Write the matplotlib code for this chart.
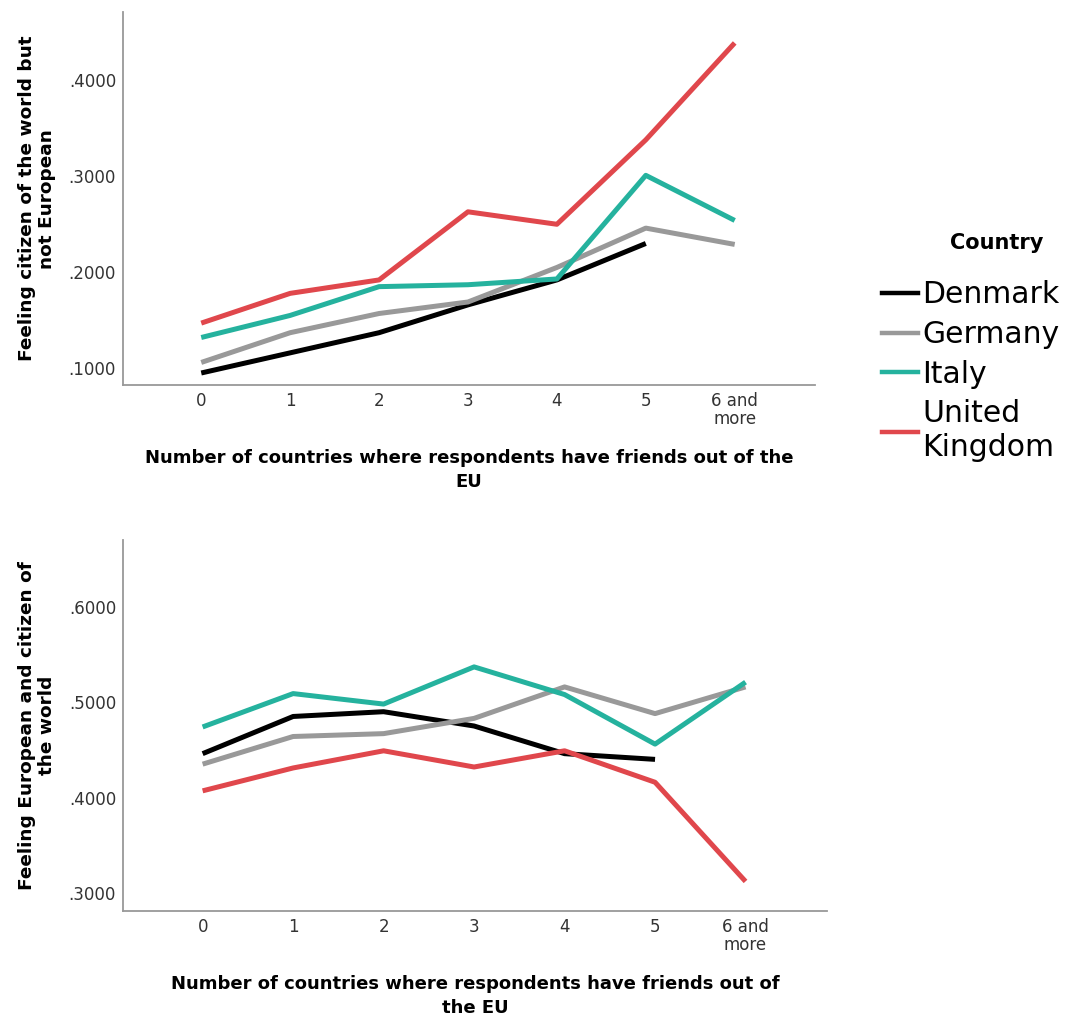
import numpy as np
import matplotlib.pyplot as plt
from matplotlib.lines import Line2D

# categorias do eixo x
groups = ['0', '1', '2', '3', '4', '5', '6 and\nmore']
countries = ['Denmark', 'Germany', 'Italy', 'United\nKingdom']
colors = ['#000000', '#999999', '#25b29e', '#e0474c']

# Feeling citizen of the world but not European
world_dk = [0.095, 0.116, 0.137, 0.166, 0.192, 0.230]
world_de = [0.106, 0.137, 0.157, 0.169, 0.205, 0.246, 0.229]
world_it = [0.132, 0.155, 0.185, 0.187, 0.193, 0.301, 0.254]
world_uk = [0.147, 0.178, 0.192, 0.263, 0.250, 0.338, 0.439]

# Feeling European and citizen of the world
both_dk = [0.446, 0.485, 0.490, 0.475, 0.446, 0.440]
both_de = [0.435, 0.464, 0.467, 0.483, 0.516, 0.488, 0.516]
both_it = [0.474, 0.509, 0.498, 0.537, 0.508, 0.456, 0.521]
both_uk = [0.407, 0.431, 0.449, 0.432, 0.449, 0.416, 0.312]

plt.rcParams['font.family'] = 'DejaVu Sans'

fig = plt.figure(figsize=(10.65, 10.19), dpi=100)
ax1 = fig.add_axes([0.1155, 0.622, 0.6495, 0.366])
ax2 = fig.add_axes([0.1155, 0.106, 0.661, 0.364])

def draw(ax, series, ylim, yticks, ylabel):
    for vals, c in zip(series, colors):
        ax.plot(np.arange(len(vals)), vals, color=c, lw=3.6, solid_capstyle='butt')
    ax.set_xlim(-0.88, 6.9)
    ax.set_ylim(*ylim)
    ax.set_xticks(np.arange(len(groups)))
    ax.set_xticklabels(groups, fontsize=12, color='#333333', linespacing=1.0)
    ax.set_yticks(yticks)
    ax.set_yticklabels(['.%d' % round(v * 10000) for v in yticks], fontsize=12, color='#333333')
    ax.tick_params(length=0, pad=5)
    for s in ['top', 'right']:
        ax.spines[s].set_visible(False)
    for s in ['left', 'bottom']:
        ax.spines[s].set_color('#999999')
        ax.spines[s].set_linewidth(1.3)
    ax.set_ylabel(ylabel, fontsize=13.3, fontweight='bold', labelpad=9, linespacing=1.15)

draw(ax1, [world_dk, world_de, world_it, world_uk], (0.0823, 0.471),
     [0.1, 0.2, 0.3, 0.4], 'Feeling citizen of the world but\nnot European')
ax1.set_xlabel('Number of countries where respondents have friends out of the\nEU',
               fontsize=13, fontweight='bold', labelpad=15, linespacing=1.45)

draw(ax2, [both_dk, both_de, both_it, both_uk], (0.281, 0.670),
     [0.3, 0.4, 0.5, 0.6], 'Feeling European and citizen of\nthe world')
ax2.set_xlabel('Number of countries where respondents have friends out of\nthe EU',
               fontsize=13, fontweight='bold', labelpad=15, linespacing=1.45)

fig.text(997 / 1065, 1 - 243 / 1019, 'Country', fontsize=15, fontweight='bold',
         ha='center', va='center')
handles = [Line2D([], [], color=c, lw=3.2) for c in colors]
leg = fig.legend(handles, countries, loc='upper left', bbox_to_anchor=(0.828, 0.725),
                 frameon=False, fontsize=21.5, borderpad=0,
                 handlelength=1.2, handletextpad=0.15, labelspacing=0.36,
                 borderaxespad=0)

fig.savefig('out.png', dpi=100)
